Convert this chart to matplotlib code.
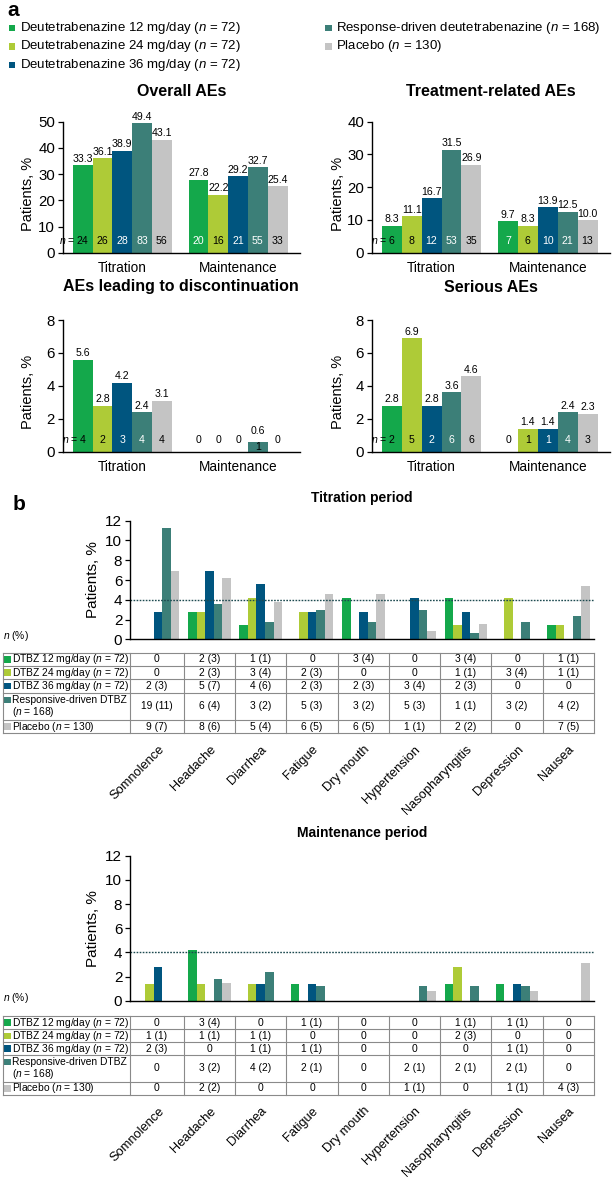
import numpy as np
import matplotlib
matplotlib.use('Agg')
import matplotlib.pyplot as plt
import matplotlib.transforms as mtransforms
from matplotlib.patches import Rectangle

plt.rcParams['font.family'] = ['Liberation Sans', 'DejaVu Sans']
plt.rcParams['mathtext.fontset'] = 'custom'
plt.rcParams['mathtext.rm'] = 'Liberation Sans'
plt.rcParams['mathtext.it'] = 'Liberation Sans:italic'

# ---- data -------------------------------------------------------------
colors = ['#14A84B', '#AECB37', '#00557F', '#3C7F78', '#C4C4C4']
legend_labels = ['Deutetrabenazine 12 mg/day ($n$ = 72)',
                 'Deutetrabenazine 24 mg/day ($n$ = 72)',
                 'Deutetrabenazine 36 mg/day ($n$ = 72)',
                 'Response-driven deutetrabenazine ($n$ = 168)',
                 'Placebo ($n$ = 130)']
periods = ['Titration', 'Maintenance']

overall_titr = [33.3, 36.1, 38.9, 49.4, 43.1]
overall_titr_n = [24, 26, 28, 83, 56]
overall_maint = [27.8, 22.2, 29.2, 32.7, 25.4]
overall_maint_n = [20, 16, 21, 55, 33]

related_titr = [8.3, 11.1, 16.7, 31.5, 26.9]
related_titr_n = [6, 8, 12, 53, 35]
related_maint = [9.7, 8.3, 13.9, 12.5, 10.0]
related_maint_n = [7, 6, 10, 21, 13]

disc_titr = [5.6, 2.8, 4.2, 2.4, 3.1]
disc_titr_n = [4, 2, 3, 4, 4]
disc_maint = [0, 0, 0, 0.6, 0]
disc_maint_n = [0, 0, 0, 1, 0]

serious_titr = [2.8, 6.9, 2.8, 3.6, 4.6]
serious_titr_n = [2, 5, 2, 6, 6]
serious_maint = [0, 1.4, 1.4, 2.4, 2.3]
serious_maint_n = [0, 1, 1, 4, 3]

ae_names = ['Somnolence', 'Headache', 'Diarrhea', 'Fatigue', 'Dry mouth',
            'Hypertension', 'Nasopharyngitis', 'Depression', 'Nausea']
table_labels = ['DTBZ 12 mg/day ($n$ = 72)', 'DTBZ 24 mg/day ($n$ = 72)',
                'DTBZ 36 mg/day ($n$ = 72)', 'Responsive-driven DTBZ',
                'Placebo ($n$ = 130)']
table_label_extra = ['', '', '', '($n$ = 168)', '']

# titration period, % of patients per arm
titr_12 = [0, 2.8, 1.4, 0, 4.2, 0, 4.2, 0, 1.4]
titr_24 = [0, 2.8, 4.2, 2.8, 0, 0, 1.4, 4.2, 1.4]
titr_36 = [2.8, 6.9, 5.6, 2.8, 2.8, 4.2, 2.8, 0, 0]
titr_resp = [11.3, 3.6, 1.8, 3.0, 1.8, 3.0, 0.6, 1.8, 2.4]
titr_pbo = [6.9, 6.2, 3.8, 4.6, 4.6, 0.8, 1.5, 0, 5.4]

titr_table = [
    ['0', '2 (3)', '1 (1)', '0', '3 (4)', '0', '3 (4)', '0', '1 (1)'],
    ['0', '2 (3)', '3 (4)', '2 (3)', '0', '0', '1 (1)', '3 (4)', '1 (1)'],
    ['2 (3)', '5 (7)', '4 (6)', '2 (3)', '2 (3)', '3 (4)', '2 (3)', '0', '0'],
    ['19 (11)', '6 (4)', '3 (2)', '5 (3)', '3 (2)', '5 (3)', '1 (1)', '3 (2)', '4 (2)'],
    ['9 (7)', '8 (6)', '5 (4)', '6 (5)', '6 (5)', '1 (1)', '2 (2)', '0', '7 (5)'],
]

# maintenance period, % of patients per arm
maint_12 = [0, 4.2, 0, 1.4, 0, 0, 1.4, 1.4, 0]
maint_24 = [1.4, 1.4, 1.4, 0, 0, 0, 2.8, 0, 0]
maint_36 = [2.8, 0, 1.4, 1.4, 0, 0, 0, 1.4, 0]
maint_resp = [0, 1.8, 2.4, 1.2, 0, 1.2, 1.2, 1.2, 0]
maint_pbo = [0, 1.5, 0, 0, 0, 0.8, 0, 0.8, 3.1]

maint_table = [
    ['0', '3 (4)', '0', '1 (1)', '0', '0', '1 (1)', '1 (1)', '0'],
    ['1 (1)', '1 (1)', '1 (1)', '0', '0', '0', '2 (3)', '0', '0'],
    ['2 (3)', '0', '1 (1)', '1 (1)', '0', '0', '0', '1 (1)', '0'],
    ['0', '3 (2)', '4 (2)', '2 (1)', '0', '2 (1)', '2 (1)', '2 (1)', '0'],
    ['0', '2 (2)', '0', '0', '0', '1 (1)', '0', '1 (1)', '4 (3)'],
]

# ---- layout helpers ---------------------------------------------------
W, H = 613, 1181
fig = plt.figure(figsize=(W / 100, H / 100), dpi=100)

ov = fig.add_axes([0, 0, 1, 1])
ov.set_xlim(0, W)
ov.set_ylim(H, 0)
ov.axis('off')


def px_axes(left, top, right, bottom):
    return fig.add_axes([left / W, 1 - bottom / H, (right - left) / W, (bottom - top) / H])


def style_axes(ax, fs):
    for s in ['top', 'right']:
        ax.spines[s].set_visible(False)
    ax.spines['left'].set_linewidth(1.0)
    ax.spines['bottom'].set_linewidth(1.0)
    ax.tick_params(axis='y', direction='out', length=3.5, width=0.9, labelsize=fs, pad=2)


# ---- panel a ----------------------------------------------------------
ov.text(7, 0.5, 'a', fontsize=15, fontweight='bold', va='top')
leg_rows = [28, 46.5, 65]
leg_pos = [(8.5, leg_rows[0]), (8.5, leg_rows[1]), (8.5, leg_rows[2]),
           (325, leg_rows[0]), (325, leg_rows[1])]
for (lx, ly), lab, c in zip(leg_pos, legend_labels, colors):
    ov.add_patch(Rectangle((lx, ly - 3.3), 6.6, 6.6, color=c, lw=0))
    ov.text(lx + 11.5, ly, lab, fontsize=9.5, va='center', ha='left')

bw_a = 0.171
n_colors = ['white', 'black', 'white', 'white', 'black']
val_fs = 7.6


def draw_summary(ax, titr, titr_n, maint, maint_n, ymax, ystep, title, title_gap, ylab_x):
    ax.set_xlim(-0.515, 1.535)
    ax.set_ylim(0, ymax)
    px_unit = 131.5 / ymax
    for g, (vals, counts) in enumerate([(titr, titr_n), (maint, maint_n)]):
        for i, (v, n) in enumerate(zip(vals, counts)):
            x = g + (i - 2) * bw_a
            ax.bar(x, v, bw_a, color=colors[i], linewidth=0)
            tiny = v * px_unit < 15
            if v > 0:
                ax.annotate(f'{v:.1f}', (x, v), xytext=(0, 1.0 if not tiny else 4.0),
                            textcoords='offset points', ha='center', va='bottom', fontsize=val_fs)
            col = n_colors[i]
            if tiny or (g == 0 and i == 0):
                col = 'black'
            off = 3.4 if (tiny and v > 0) else 8.3
            ax.annotate(str(n), (x, 0), xytext=(0, off), textcoords='offset points',
                        ha='center', va='center', fontsize=val_fs, color=col)
            if g == 0 and i == 0:
                half = len(str(n)) * 0.556 * val_fs / 2
                ax.annotate('$n$ =', (x, 0), xytext=(-(half + 0.8), off),
                            textcoords='offset points', ha='right', va='center',
                            fontsize=val_fs, color='black')
    ax.set_yticks(np.arange(0, ymax + 1, ystep))
    ax.set_xticks([0, 1])
    ax.set_xticklabels(periods, fontsize=9.8)
    ax.tick_params(axis='x', length=0, pad=6)
    style_axes(ax, 10.8)
    ax.set_ylabel('Patients, %', fontsize=10.5, va='center')
    ax.yaxis.set_label_coords(ylab_x, 0.45)
    ax.annotate(title, (0.5, 1), xycoords='axes fraction', xytext=(0, title_gap * 0.72),
                textcoords='offset points', ha='center', va='center',
                fontsize=11.5, fontweight='bold')


ax1 = px_axes(62.7, 121.7, 300, 252.7)
draw_summary(ax1, overall_titr, overall_titr_n, overall_maint, overall_maint_n,
             50, 10, 'Overall AEs', 30, (28.3 - 62.7) / 237.3)
ax2 = px_axes(371.7, 121.7, 610, 252.7)
draw_summary(ax2, related_titr, related_titr_n, related_maint, related_maint_n,
             40, 10, 'Treatment-related AEs', 30, (338.3 - 371.7) / 238.3)
ax3 = px_axes(62.7, 320, 300, 451.7)
draw_summary(ax3, disc_titr, disc_titr_n, disc_maint, disc_maint_n,
             8, 2, 'AEs leading to discontinuation', 33, (28.3 - 62.7) / 237.3)
ax4 = px_axes(371.7, 320, 610, 451.7)
draw_summary(ax4, serious_titr, serious_titr_n, serious_maint, serious_maint_n,
             8, 2, 'Serious AEs', 32, (338.3 - 371.7) / 238.3)

# ---- panel b ----------------------------------------------------------
ov.text(13, 510, 'b', fontsize=15, fontweight='bold', va='baseline')

bw_b = 0.166
b_left, b_right = 130, 594
b_xmin, b_xmax = -0.55, 8.5


def xpx(x):
    return b_left + (x - b_xmin) / (b_xmax - b_xmin) * (b_right - b_left)


col_edges = [3] + [xpx(b_xmin)] + [xpx(k + 0.5) for k in range(9)]


def draw_ae_panel(ax, series, title):
    ax.set_xlim(b_xmin, b_xmax)
    ax.set_ylim(0, 12)
    cats = np.arange(len(ae_names))
    for i, vals in enumerate(series):
        ax.bar(cats + (i - 2) * bw_b, vals, bw_b, color=colors[i], linewidth=0)
    ax.axhline(4, color='#1d4a50', ls=(0, (1.2, 1.0)), lw=1.0)
    ax.set_yticks(range(0, 13, 2))
    ax.set_xticks(cats)
    ax.set_xticklabels(ae_names, rotation=45, ha='right', va='top',
                       rotation_mode='anchor', fontsize=9.3)
    shift = mtransforms.ScaledTranslation(3 / 100, 0, fig.dpi_scale_trans)
    for lab in ax.get_xticklabels():
        lab.set_transform(lab.get_transform() + shift)
    ax.tick_params(axis='x', length=0, pad=75)
    style_axes(ax, 11)
    ax.set_ylabel('Patients, %', fontsize=11, va='center')
    ax.yaxis.set_label_coords((93 - b_left) / (b_right - b_left), 0.5)
    ax.annotate(title, (0.5, 1), xycoords='axes fraction', xytext=(0, 22.5 * 0.72),
                textcoords='offset points', ha='center', va='center',
                fontsize=10, fontweight='bold')


def draw_table(row_lines, cells, nlabel_y):
    ov.text(3, nlabel_y, '$n$ (%)', fontsize=7.4, va='center', ha='left')
    top, bottom = row_lines[0], row_lines[-1]
    for y in row_lines:
        ov.plot([col_edges[0], col_edges[-1]], [y, y], color='#8a8a8a', lw=0.8)
    for x in col_edges:
        ov.plot([x, x], [top, bottom], color='#8a8a8a', lw=0.8)
    for r in range(5):
        yc = (row_lines[r] + row_lines[r + 1]) / 2
        y_lab = yc
        if table_label_extra[r]:
            y_lab = yc - 6.3
            ov.text(11.7, yc + 5.2, table_label_extra[r], fontsize=7.4, va='center', ha='left')
        ov.add_patch(Rectangle((4, y_lab - 3.3), 6.6, 6.6, color=colors[r], lw=0))
        ov.text(11.7, y_lab, table_labels[r], fontsize=7.4, va='center', ha='left')
        for c in range(9):
            xc = (col_edges[c + 1] + col_edges[c + 2]) / 2
            ov.text(xc, yc, cells[r][c], fontsize=7.4, va='center', ha='center')


ax5 = px_axes(b_left, 520.7, b_right, 639.3)
draw_ae_panel(ax5, [titr_12, titr_24, titr_36, titr_resp, titr_pbo], 'Titration period')
draw_table([652.7, 666, 679.3, 692.7, 720, 733.3], titr_table, 635.7)

ax6 = px_axes(b_left, 855.7, b_right, 1000.7)
draw_ae_panel(ax6, [maint_12, maint_24, maint_36, maint_resp, maint_pbo], 'Maintenance period')
draw_table([1016, 1029.3, 1042.3, 1055, 1081.7, 1095], maint_table, 998.3)

fig.savefig('out.png', dpi=100)
